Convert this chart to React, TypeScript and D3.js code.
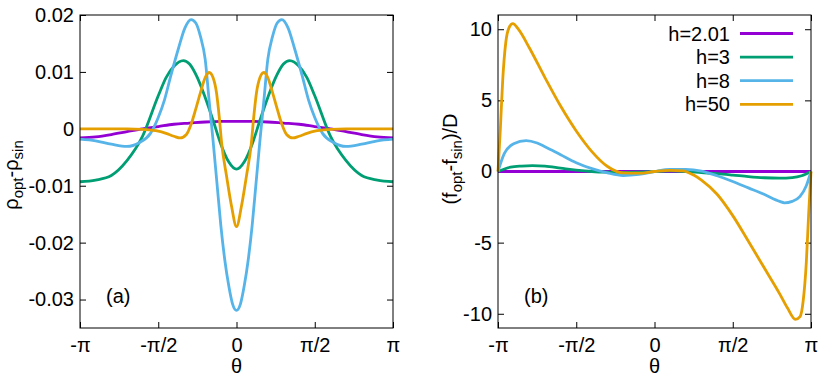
import React, { useEffect, useRef } from "react";
import * as d3 from "d3";

// theta is stored in units of pi (-1 .. 1)
const colors = ["#9400d3", "#009e73", "#56b4e9", "#e69f00"];
const hLabels = ["h=2.01", "h=3", "h=8", "h=50"];

const xTickValues = [-1, -0.5, 0, 0.5, 1];
const xTickLabels = ["-π", "-π/2", "0", "π/2", "π"];

// panel (a): rho_opt - rho_sin
const aTickValues = [-0.03, -0.02, -0.01, 0, 0.01, 0.02];
const aTickLabels = ["-0.03", "-0.02", "-0.01", "0", "0.01", "0.02"];

const aPurpleT = [-1, -0.9, -0.8, -0.7, -0.6, -0.5, -0.4, -0.3, -0.2, -0.1, 0, 0.1, 0.2, 0.3, 0.4, 0.5, 0.6, 0.7, 0.8, 0.9, 1];
const aPurpleV = [-0.0016, -0.0014, -0.001, -0.0005, 0, 0.0004, 0.0008, 0.001, 0.0012, 0.0013, 0.0013, 0.0013, 0.0012, 0.001, 0.0008, 0.0004, 0, -0.0005, -0.001, -0.0014, -0.0016];

const aGreenT = [-1, -0.9, -0.8, -0.7, -0.6, -0.5, -0.45, -0.4, -0.34, -0.3, -0.25, -0.2, -0.15, -0.1, -0.05, 0, 0.05, 0.1, 0.15, 0.2, 0.25, 0.3, 0.34, 0.4, 0.45, 0.5, 0.6, 0.7, 0.8, 0.9, 1];
const aGreenV = [-0.0093, -0.009, -0.0082, -0.0056, -0.0013, 0.0058, 0.009, 0.011, 0.012, 0.0114, 0.009, 0.0055, 0.0015, -0.0027, -0.0058, -0.0071, -0.0058, -0.0027, 0.0015, 0.0055, 0.009, 0.0114, 0.012, 0.011, 0.009, 0.0058, -0.0013, -0.0056, -0.0082, -0.009, -0.0093];

const aBlueT = [-1, -0.9, -0.8, -0.7, -0.62, -0.55, -0.5, -0.46, -0.42, -0.37, -0.33, -0.29, -0.26, -0.23, -0.2, -0.175, -0.15, -0.125, -0.1, -0.075, -0.05, -0.025, 0,
  0.025, 0.05, 0.075, 0.1, 0.125, 0.15, 0.175, 0.2, 0.23, 0.26, 0.29, 0.33, 0.37, 0.42, 0.46, 0.5, 0.55, 0.62, 0.7, 0.8, 0.9, 1];
const aBlueV = [-0.0018, -0.0021, -0.0027, -0.0031, -0.0024, -0.0008, 0.002, 0.0051, 0.0093, 0.0142, 0.0177, 0.0192, 0.0186, 0.0162, 0.0122, 0.005, -0.002, -0.0095, -0.017, -0.023, -0.0275, -0.0308, -0.0319,
  -0.0308, -0.0275, -0.023, -0.017, -0.0095, -0.002, 0.005, 0.0122, 0.0162, 0.0186, 0.0192, 0.0177, 0.0142, 0.0093, 0.0051, 0.002, -0.0008, -0.0024, -0.0031, -0.0027, -0.0021, -0.0018];

const aOrangeT = [-1, -0.7, -0.6, -0.5, -0.45, -0.4, -0.36, -0.32, -0.29, -0.26, -0.23, -0.2, -0.174, -0.15, -0.127, -0.11, -0.095, -0.063, -0.031, 0,
  0.031, 0.063, 0.095, 0.11, 0.127, 0.15, 0.174, 0.2, 0.23, 0.26, 0.29, 0.32, 0.36, 0.4, 0.45, 0.5, 0.6, 0.7, 1];
const aOrangeV = [0, 0, -0.0001, -0.0004, -0.0008, -0.0013, -0.0016, -0.001, 0.0008, 0.0035, 0.0064, 0.009, 0.0099, 0.009, 0.0062, 0.002, -0.0025, -0.0084, -0.0137, -0.0172,
  -0.0137, -0.0084, -0.0025, 0.002, 0.0062, 0.009, 0.0099, 0.009, 0.0064, 0.0035, 0.0008, -0.001, -0.0016, -0.0013, -0.0008, -0.0004, -0.0001, 0, 0];

// panel (b): (f_opt - f_sin)/D
const bTickValues = [-10, -5, 0, 5, 10];
const bTickLabels = ["-10", "-5", "0", "5", "10"];

const bPurpleT = [-1, 1];
const bPurpleV = [0, 0];

const bGreenT = [-1, -0.92, -0.85, -0.78, -0.7, -0.6, -0.5, -0.4, -0.3, -0.2, -0.1, 0, 0.1, 0.2, 0.3, 0.4, 0.5, 0.6, 0.7, 0.8, 0.88, 0.94, 1];
const bGreenV = [0, 0.3, 0.38, 0.41, 0.38, 0.24, 0.1, 0, -0.05, -0.07, -0.04, 0, 0.04, 0, -0.08, -0.15, -0.25, -0.36, -0.44, -0.47, -0.43, -0.3, 0];

const bBlueT = [-1, -0.96, -0.9, -0.82, -0.75, -0.7, -0.6, -0.5, -0.4, -0.3, -0.2, -0.1, 0, 0.1, 0.2, 0.3, 0.4, 0.5, 0.6, 0.7, 0.8, 0.83, 0.88, 0.93, 0.97, 1];
const bBlueV = [0, 1.25, 1.95, 2.17, 2.0, 1.74, 1.18, 0.62, 0.2, -0.1, -0.28, -0.2, 0, 0.15, 0.15, 0.03, -0.3, -0.7, -1.15, -1.6, -2.1, -2.2, -2.1, -1.75, -1.0, 0];

const bOrangeT = [-1, -0.985, -0.97, -0.95, -0.93, -0.905, -0.87, -0.8, -0.7, -0.6, -0.5, -0.4, -0.3, -0.2, -0.1, 0, 0.1, 0.18, 0.25, 0.3, 0.4, 0.5, 0.6, 0.7, 0.8, 0.85, 0.9, 0.93, 0.95, 0.97, 0.985, 1];
const bOrangeV = [0, 3.0, 6.4, 9.1, 10.1, 10.4, 10.0, 8.7, 6.6, 4.6, 2.85, 1.4, 0.35, -0.1, -0.12, 0, 0.08, 0.05, -0.25, -0.6, -1.6, -3.1, -4.9, -6.75, -8.6, -9.6, -10.4, -10.2, -9.1, -6.4, -3.0, 0];

const W = 822, H = 383;
const fontFam = "'Liberation Sans', Arial, Helvetica, sans-serif";

type Box = { left: number; right: number; top: number; bottom: number };

const drawPanel = (svg: any, box: Box, yDomain: number[], yTicks: number[], yLabels: string[],
  series: { t: number[]; v: number[] }[], tag: string) => {
  const x = d3.scaleLinear().domain([-1, 1]).range([box.left, box.right]);
  const y = d3.scaleLinear().domain(yDomain).range([box.bottom, box.top]);
  const g = svg.append("g");

  // ticks point inwards and are mirrored on top/right, gnuplot style
  const xAxis = d3.axisBottom(x).tickValues(xTickValues).tickSizeInner(-6).tickSizeOuter(0).tickPadding(10)
    .tickFormat((d: any, i: number) => xTickLabels[i]);
  const yAxis = d3.axisLeft(y).tickValues(yTicks).tickSizeInner(-6).tickSizeOuter(0).tickPadding(6)
    .tickFormat((d: any, i: number) => yLabels[i]);
  const xTop = d3.axisTop(x).tickValues(xTickValues).tickSizeInner(-6).tickSizeOuter(0).tickFormat(() => "");
  const yRight = d3.axisRight(y).tickValues(yTicks).tickSizeInner(-6).tickSizeOuter(0).tickFormat(() => "");

  const axes = [
    g.append("g").attr("transform", `translate(0,${box.bottom})`).call(xAxis),
    g.append("g").attr("transform", `translate(${box.left},0)`).call(yAxis),
    g.append("g").attr("transform", `translate(0,${box.top})`).call(xTop),
    g.append("g").attr("transform", `translate(${box.right},0)`).call(yRight),
  ];
  axes.forEach((a) => {
    a.select(".domain").remove();
    a.attr("font-size", 20).attr("font-family", fontFam);
    a.selectAll("line").attr("stroke", "#000").attr("stroke-width", 1);
    a.selectAll("text").attr("fill", "#000");
  });

  series.forEach((s, k) => {
    const pts: [number, number][] = s.t.map((t, i) => [x(t), y(s.v[i])]);
    g.append("path")
      .attr("d", d3.line().curve(d3.curveMonotoneX)(pts))
      .attr("fill", "none")
      .attr("stroke", colors[k])
      .attr("stroke-width", 2.8)
      .attr("stroke-linejoin", "round");
  });

  g.append("rect")
    .attr("x", box.left).attr("y", box.top)
    .attr("width", box.right - box.left).attr("height", box.bottom - box.top)
    .attr("fill", "none").attr("stroke", "#000").attr("stroke-width", 1);

  g.append("text")
    .attr("x", box.left + 26).attr("y", box.bottom - 25)
    .attr("font-size", 20).attr("font-family", fontFam)
    .text(tag);

  g.append("text")
    .attr("x", (box.left + box.right) / 2).attr("y", 373)
    .attr("text-anchor", "middle")
    .attr("font-size", 20).attr("font-family", fontFam)
    .text("θ");
};

const App = () => {
  const ref = useRef<SVGSVGElement>(null);
  useEffect(() => {
    const svg = d3.select(ref.current);
    svg.selectAll("*").remove();

    drawPanel(svg, { left: 80, right: 393, top: 15, bottom: 328 }, [-0.035, 0.02], aTickValues, aTickLabels, [
      { t: aPurpleT, v: aPurpleV },
      { t: aGreenT, v: aGreenV },
      { t: aBlueT, v: aBlueV },
      { t: aOrangeT, v: aOrangeV },
    ], "(a)");

    drawPanel(svg, { left: 498, right: 811, top: 15, bottom: 328 }, [-11, 11], bTickValues, bTickLabels, [
      { t: bPurpleT, v: bPurpleV },
      { t: bGreenT, v: bGreenV },
      { t: bBlueT, v: bBlueV },
      { t: bOrangeT, v: bOrangeV },
    ], "(b)");

    // y axis titles
    const ya = svg.append("text")
      .attr("transform", "translate(18,175) rotate(-90)")
      .attr("text-anchor", "middle")
      .attr("font-size", 20).attr("font-family", fontFam);
    ya.append("tspan").text("ρ");
    ya.append("tspan").attr("font-size", 15).attr("dy", 5).text("opt");
    ya.append("tspan").attr("dy", -5).text("-ρ");
    ya.append("tspan").attr("font-size", 15).attr("dy", 5).text("sin");

    const yb = svg.append("text")
      .attr("transform", "translate(457,159) rotate(-90)")
      .attr("text-anchor", "middle")
      .attr("font-size", 20).attr("font-family", fontFam);
    yb.append("tspan").text("(f");
    yb.append("tspan").attr("font-size", 15).attr("dy", 5).text("opt");
    yb.append("tspan").attr("dy", -5).text("-f");
    yb.append("tspan").attr("font-size", 15).attr("dy", 5).text("sin");
    yb.append("tspan").attr("dy", -5).text(")/D");

    // legend
    const legend = svg.append("g").attr("font-size", 20).attr("font-family", fontFam);
    hLabels.forEach((lab, i) => {
      const yy = 33.5 + i * 23.6;
      legend.append("text")
        .attr("x", 730).attr("y", yy).attr("dy", "0.35em")
        .attr("text-anchor", "end").text(lab);
      legend.append("line")
        .attr("x1", 740).attr("x2", 793).attr("y1", yy).attr("y2", yy)
        .attr("stroke", colors[i]).attr("stroke-width", 2.8);
    });
  }, []);

  return (
    <svg ref={ref} width={W} height={H} style={{ position: "absolute", left: 0, top: 0, background: "#fff" }} />
  );
};

export default App;
